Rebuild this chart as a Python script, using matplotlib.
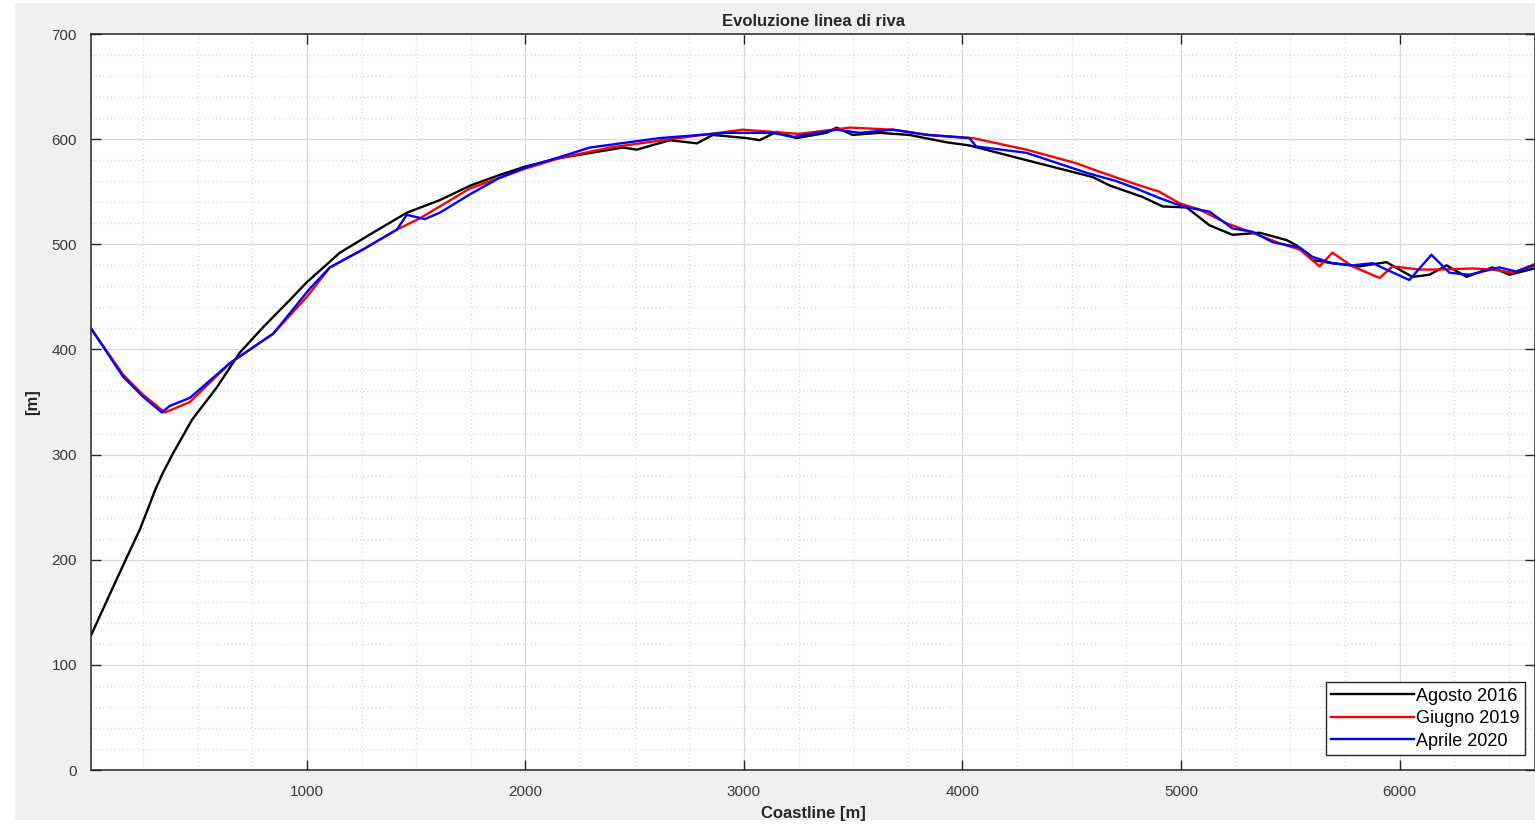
import matplotlib
matplotlib.use("Agg")
import matplotlib.pyplot as plt
from matplotlib.patches import Rectangle
from matplotlib.ticker import MultipleLocator

# ---- data ----
x_2016 = [12, 122, 182, 236, 268, 305, 337, 387, 474, 588, 693, 799, 922, 1000, 1151, 1302, 1457,
          1608, 1750, 1883, 2000, 2157, 2300, 2446, 2510, 2661, 2785, 2858, 3012, 3072, 3150, 3241,
          3378, 3424, 3497, 3620, 3757, 3927, 4032, 4293, 4444, 4595, 4673, 4824, 4916, 5026, 5131,
          5236, 5360, 5483, 5529, 5602, 5693, 5817, 5940, 6059, 6137, 6215, 6306, 6425, 6503, 6617]
y_2016 = [128, 178, 205, 229, 246, 266, 281, 301, 333, 364, 397, 421, 447, 464, 492, 511, 530,
          542, 556, 566, 574, 582, 587, 592, 590, 599, 596, 604, 601, 599, 607, 601,
          606, 611, 604, 606, 604, 597, 594, 580, 572, 564, 556, 545, 536, 535, 518,
          509, 511, 504, 499, 485, 482, 479, 483, 469, 471, 480, 469, 478, 471, 477]

x_2019 = [12, 159, 250, 350, 465, 648, 846, 1000, 1105, 1256, 1412, 1520, 1745, 2000, 2157, 2386,
          2700, 2995, 3250, 3485, 3681, 3850, 4047, 4293, 4522, 4627, 4810, 4901, 4993, 5085, 5209,
          5327, 5451, 5543, 5634, 5693, 5785, 5909, 5968, 6091, 6183, 6334, 6425, 6517, 6617]
y_2019 = [420, 376, 357, 340, 350, 387, 415, 450, 478, 495, 514, 525, 553, 572, 582, 592,
          601, 609, 605, 611, 609, 604, 601, 590, 577, 569, 556, 550, 539, 533, 520,
          511, 501, 495, 479, 492, 479, 468, 479, 476, 476, 477, 476, 473, 481]

x_2020 = [12, 159, 250, 337, 370, 465, 648, 846, 1014, 1105, 1256, 1412, 1457, 1540, 1608, 1750,
          1880, 2000, 2157, 2295, 2614, 2921, 3132, 3223, 3424, 3530, 3681, 3836, 4032, 4063, 4293,
          4568, 4705, 4796, 4901, 5008, 5131, 5236, 5327, 5419, 5543, 5602, 5693, 5785, 5877, 5940,
          6045, 6146, 6228, 6320, 6457, 6535, 6617]
y_2020 = [420, 374, 355, 340, 346, 354, 387, 415, 458, 478, 495, 514, 528, 524, 530, 548,
          563, 573, 583, 592, 601, 606, 606, 602, 609, 606, 609, 604, 601, 593, 587,
          568, 560, 553, 544, 536, 531, 515, 512, 502, 497, 488, 482, 480, 482, 476,
          466, 490, 473, 471, 478, 474, 480]

labels = ["Agosto 2016", "Giugno 2019", "Aprile 2020"]
colors = ["black", "red", "blue"]

title = "Evoluzione linea di riva"
xlabel = "Coastline [m]"
ylabel = "[m]"

plt.rcParams['font.family'] = ['Liberation Sans', 'DejaVu Sans']

W, H = 1535, 825
fig = plt.figure(figsize=(W / 100, H / 100), dpi=100, facecolor="white")
bg = fig.add_axes([0, 0, 1, 1], zorder=-5)
bg.set_axis_off()
bg.set_xlim(0, 1)
bg.set_ylim(0, 1)
bg.add_patch(Rectangle((15 / W, (H - 820) / H), (W - 15) / W, (820 - 3) / H,
                       facecolor="#f0f0f0", edgecolor="none"))

ax = fig.add_axes([91 / W, (H - 770) / H, 1 - 91 / W, (770 - 34) / H])
ax.set_facecolor("white")

for xs, ys, c, lab in zip([x_2016, x_2019, x_2020], [y_2016, y_2019, y_2020], colors, labels):
    ax.plot(xs, ys, color=c, lw=1.7, label=lab)

ax.set_xlim(12, 6620)
ax.set_ylim(0, 700)
ax.xaxis.set_minor_locator(MultipleLocator(250))
ax.yaxis.set_major_locator(MultipleLocator(100))
ax.yaxis.set_minor_locator(MultipleLocator(20))
ax.set_xticks([1000, 2000, 3000, 4000, 5000, 6000])

ax.grid(which="major", color="#d9d9d9", lw=0.9, ls="-")
ax.grid(which="minor", color="#d0d0d0", lw=0.8, ls=(0, (1, 2.5)))
ax.set_axisbelow(True)

ax.tick_params(which="major", direction="in", length=7, width=1, color="#262626",
               labelsize=11, labelcolor="#3a3a3a", top=True, right=True)
ax.tick_params(axis="x", pad=11)
ax.tick_params(axis="y", pad=10)
ax.tick_params(which="minor", length=0)
for s in ax.spines.values():
    s.set_color("#262626")
    s.set_linewidth(1.1)

ax.set_title(title, fontsize=12, fontweight="bold", color="#262626", pad=6)
ax.set_xlabel(xlabel, fontsize=12, fontweight="bold", color="#262626", labelpad=5)
ax.set_ylabel(ylabel, fontsize=12, fontweight="bold", color="#262626", labelpad=8)

leg = ax.legend(loc="lower right", bbox_to_anchor=(1525 / W, (H - 755) / H),
                bbox_transform=fig.transFigure, fontsize=13, handlelength=4.6,
                handletextpad=0.1, borderpad=0.3, labelspacing=0.3, fancybox=False,
                framealpha=1, edgecolor="#262626", borderaxespad=0)
leg.get_frame().set_linewidth(1.0)

fig.savefig("out.png", dpi=100, facecolor=fig.get_facecolor())
